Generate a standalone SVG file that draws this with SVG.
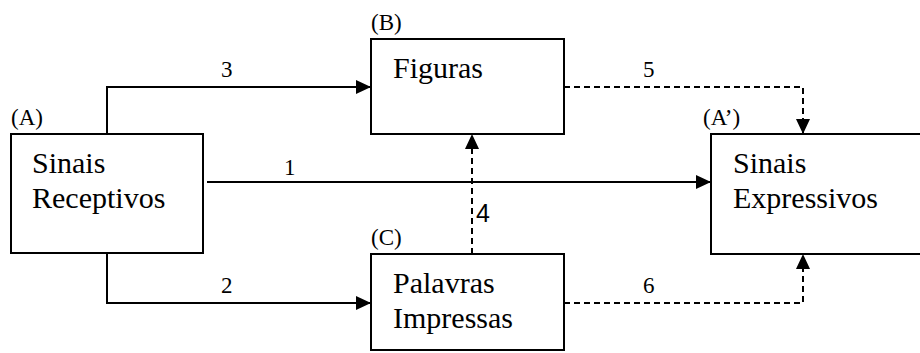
<svg xmlns="http://www.w3.org/2000/svg" width="920" height="353" viewBox="0 0 920 353">
<defs>
<style>
.box{fill:#fff;stroke:#000;stroke-width:2}
.ln{fill:none;stroke:#000;stroke-width:2}
.dash{fill:none;stroke:#000;stroke-width:2;stroke-dasharray:6 4}
</style>
<marker id="ah" viewBox="0 0 15 14" refX="15" refY="7" markerWidth="15" markerHeight="14" markerUnits="userSpaceOnUse" orient="auto">
<path d="M0,0 L15,7 L0,14 Z" fill="#000"/>
</marker>
</defs>
<rect width="920" height="353" fill="#fff"/>
<g id="nodeA">
<rect class="box" x="11" y="134" width="192" height="119"/>
<text x="11" y="125" font-family="Liberation Serif" font-size="23">(A)</text>
<text x="32" y="173" font-family="Liberation Serif" font-size="30">Sinais</text>
<text x="32" y="208" font-family="Liberation Serif" font-size="30">Receptivos</text>
</g>
<g id="nodeB">
<rect class="box" x="371" y="39" width="193" height="95"/>
<text x="371" y="30" font-family="Liberation Serif" font-size="23">(B)</text>
<text x="393" y="78" font-family="Liberation Serif" font-size="30">Figuras</text>
</g>
<g id="nodeC">
<rect class="box" x="371" y="254" width="193" height="96"/>
<text x="371" y="245" font-family="Liberation Serif" font-size="23">(C)</text>
<text x="393" y="293" font-family="Liberation Serif" font-size="30">Palavras</text>
<text x="393" y="328" font-family="Liberation Serif" font-size="30">Impressas</text>
</g>
<g id="nodeA2">
<rect class="box" x="711" y="134" width="220" height="120"/>
<text x="703" y="125" font-family="Liberation Serif" font-size="23">(A’)</text>
<text x="733" y="173" font-family="Liberation Serif" font-size="30">Sinais</text>
<text x="733" y="208" font-family="Liberation Serif" font-size="30">Expressivos</text>
</g>
<g id="connectors">
<path class="ln" d="M207,182 H711" marker-end="url(#ah)"/>
<text x="284" y="175" font-family="Liberation Serif" font-size="23">1</text>
<path class="ln" d="M107,253 V303 H371" marker-end="url(#ah)"/>
<text x="221" y="293" font-family="Liberation Serif" font-size="23">2</text>
<path class="ln" d="M107,134 V87 H371" marker-end="url(#ah)"/>
<text x="221" y="77" font-family="Liberation Serif" font-size="23">3</text>
<path class="dash" d="M472,254 V134" marker-end="url(#ah)"/>
<text x="476" y="222" font-family="Liberation Sans" font-size="25">4</text>
<path class="dash" d="M564,87 H803 V134" marker-end="url(#ah)"/>
<text x="643" y="77" font-family="Liberation Serif" font-size="23">5</text>
<path class="dash" d="M564,303 H803 V254" marker-end="url(#ah)"/>
<text x="643" y="293" font-family="Liberation Serif" font-size="23">6</text>
</g>
</svg>
